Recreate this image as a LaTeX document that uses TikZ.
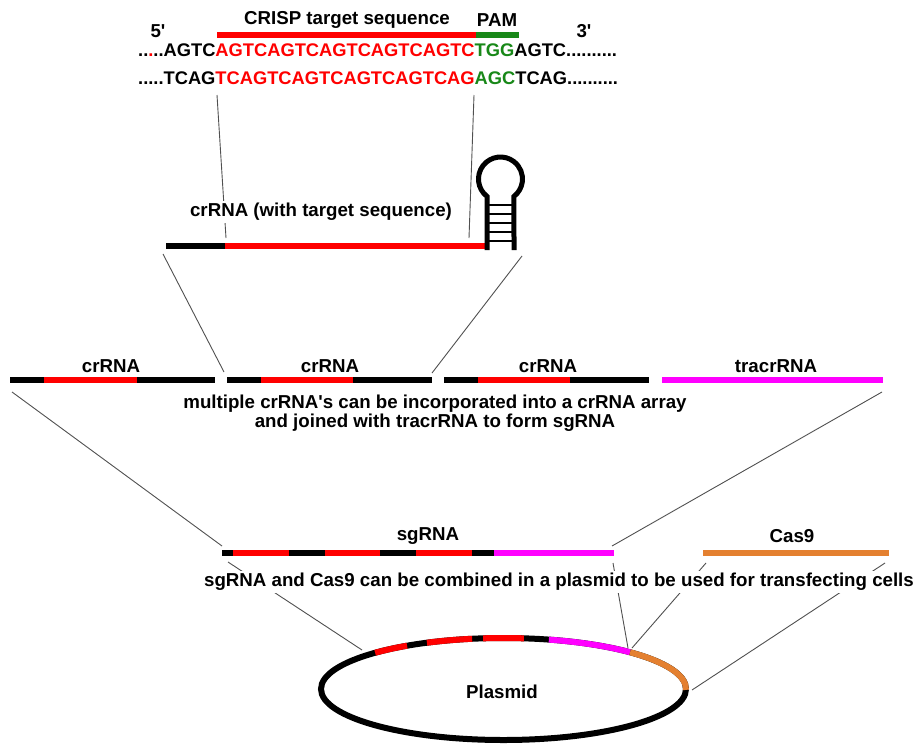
\documentclass[tikz,border=0pt]{standalone}
\usepackage{fontspec}
\setmainfont{Liberation Sans}
\definecolor{cred}{RGB}{255,0,0}
\definecolor{cgreen}{RGB}{24,136,24}
\definecolor{cmag}{RGB}{255,0,255}
\definecolor{corange}{RGB}{228,128,48}
\definecolor{cthin}{RGB}{80,80,80}
\begin{document}
\begin{tikzpicture}[x=1pt,y=-1pt,
  bar/.style={line width=6pt, line cap=butt},
  conn/.style={draw=cthin, line width=0.9pt},
  lbl/.style={font=\fontsize{18.7}{21}\selectfont\bfseries, inner sep=1pt},
  seq/.style={font=\fontsize{18.3}{21}\selectfont\bfseries, inner sep=0pt, anchor=west},
  wlbl/.style={lbl, fill=white, inner sep=2pt},
  ring/.style={line width=6pt, line cap=butt}]
\useasboundingbox (0,0) rectangle (920,744);

% ---------- connector end points ----------
\coordinate (t1a) at (217,95);  \coordinate (t1b) at (226,238);
\coordinate (t2a) at (474,95);  \coordinate (t2b) at (469,238);
\coordinate (m1a) at (163,254); \coordinate (m1b) at (224,372);
\coordinate (m2a) at (522,256); \coordinate (m2b) at (432,373);
\coordinate (a1a) at (12,392);  \coordinate (a1b) at (222,546);
\coordinate (a2a) at (882,392); \coordinate (a2b) at (612,546);
\coordinate (p1a) at (228,562); \coordinate (p1b) at (362,650);
\coordinate (p2a) at (613,563); \coordinate (p2b) at (628,648);
\coordinate (p3a) at (706,563); \coordinate (p3b) at (632,648);
\coordinate (p4a) at (885,563); \coordinate (p4b) at (692,690);

\foreach \a/\b in {t1a/t1b,t2a/t2b,m1a/m1b,m2a/m2b,a1a/a1b,a2a/a2b,p1a/p1b,p2a/p2b,p3a/p3b,p4a/p4b}
  \draw[conn] (\a) -- (\b);

% ---------- top: DNA target ----------
\node[lbl] (five) at (158,31) {5\textquotesingle};
\node[lbl] (three) at (584,31) {3\textquotesingle};
\node[lbl] (crisp) at (347,20) {CRISP target sequence};
\node[lbl] (pam) at (497,20) {PAM};
\draw[bar, cred] (217,35) -- (476,35);
\draw[bar, cgreen] (476,35) -- (519,35);
\node[seq] (top) at (138,50)
  {..\textcolor{cred}{.}..AGTC\textcolor{cred}{AGTCAGTCAGTCAGTCAGTC}\textcolor{cgreen}{TGG}AGTC..........};
\node[seq] (bot) at (138,78)
  {.....TCAG\textcolor{cred}{TCAGTCAGTCAGTCAGTCAG}\textcolor{cgreen}{AGC}TCAG..........};

% ---------- crRNA with hairpin ----------
\node[wlbl] (crt) at (321,212) {crRNA (with target sequence)};
\draw[bar, black] (166,246) -- (225,246);
\draw[bar, cred] (225,246) -- (485,246);
\foreach \yy in {205,214,223,232,241}
  \draw[line width=1.2pt] (487,\yy) -- (514,\yy);
\draw[line width=5pt] (487,250) -- (487,196.4)
  arc[start angle=232.2, end angle=-52.2, radius=22pt] -- (514,250);

% ---------- crRNA array ----------
\node[lbl] (c1) at (111,366) {crRNA};
\node[lbl] (c2) at (330,366) {crRNA};
\node[lbl] (c3) at (548,366) {crRNA};
\node[lbl] (tr) at (776,366) {tracrRNA};
\draw[bar, black] (10,380) -- (44,380);
\draw[bar, cred] (44,380) -- (137,380);
\draw[bar, black] (137,380) -- (215,380);
\draw[bar, black] (227,380) -- (261,380);
\draw[bar, cred] (261,380) -- (353,380);
\draw[bar, black] (353,380) -- (432,380);
\draw[bar, black] (444,380) -- (478,380);
\draw[bar, cred] (478,380) -- (570,380);
\draw[bar, black] (570,380) -- (649,380);
\draw[bar, cmag] (662,380) -- (883,380);
\node[lbl] (ml1) at (435,404) {multiple crRNA\textquotesingle s can be incorporated into a crRNA array};
\node[lbl] (ml2) at (435,423) {and joined with tracrRNA to form sgRNA};

% ---------- sgRNA and Cas9 ----------
\node[lbl] (sg) at (428,536) {sgRNA};
\node[lbl] (cas) at (792,536) {Cas9};
\draw[bar, black] (222,553) -- (233,553);
\draw[bar, cred] (233,553) -- (289,553);
\draw[bar, black] (289,553) -- (325,553);
\draw[bar, cred] (325,553) -- (380,553);
\draw[bar, black] (380,553) -- (416,553);
\draw[bar, cred] (416,553) -- (472,553);
\draw[bar, black] (472,553) -- (494,553);
\draw[bar, cmag] (494,553) -- (614,553);
\draw[bar, corange] (703,553) -- (889,553);
\node[wlbl] (comb) at (559,582) {sgRNA and Cas9 can be combined in a plasmid to be used for transfecting cells};

% ---------- plasmid ----------
\begin{scope}[shift={(503.5,689)}]
  \draw[ring, black] (0:182.5pt and 51pt) arc[start angle=0, end angle=360, x radius=182.5pt, y radius=51pt];
  \draw[ring, cred] (134.7:182.5pt and 51pt) arc[start angle=134.7, end angle=121.9, x radius=182.5pt, y radius=51pt];
  \draw[ring, cred] (114.8:182.5pt and 51pt) arc[start angle=114.8, end angle=99.9, x radius=182.5pt, y radius=51pt];
  \draw[ring, cred] (96.4:182.5pt and 51pt) arc[start angle=96.4, end angle=83.6, x radius=182.5pt, y radius=51pt];
  \draw[ring, cmag] (75.6:182.5pt and 51pt) arc[start angle=75.6, end angle=46.1, x radius=182.5pt, y radius=51pt];
  \draw[ring, corange] (46.1:182.5pt and 51pt) arc[start angle=46.1, end angle=-1, x radius=182.5pt, y radius=51pt];
\end{scope}
\node[lbl] (pl) at (502,692) {Plasmid};
\end{tikzpicture}
\end{document}
